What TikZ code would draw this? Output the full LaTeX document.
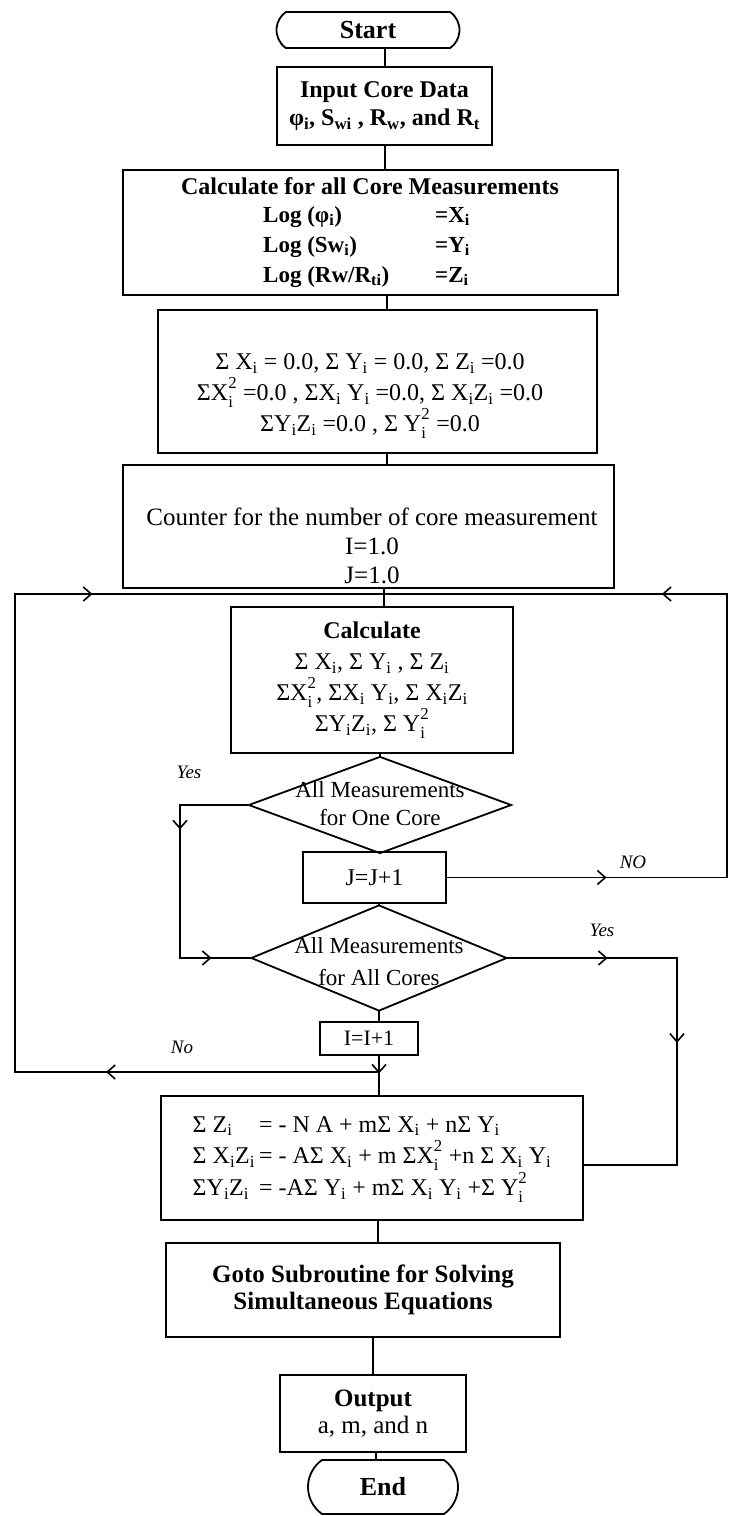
\documentclass[tikz,border=0pt]{standalone}
\usepackage{fontspec}
\setmainfont{Liberation Serif}
\usetikzlibrary{shapes.geometric,shapes.misc,arrows.meta,decorations.markings,calc}
\newcommand{\sbs}[1]{\textsubscript{#1}}
\newcommand{\ssb}[2]{\rlap{\raisebox{-0.12em}{\textsubscript{#1}}}\raisebox{0.12em}{\textsuperscript{#2}}}
\newcommand{\fs}[2]{\fontsize{#1}{#2}\selectfont}
\tikzset{
  ln/.style={line width=1.6pt, line cap=rect},
  boxn/.style={draw, line width=1.8pt, rectangle, inner sep=0pt, align=center},
  term/.style={draw, line width=1.8pt, rounded rectangle, rounded rectangle arc length=110, inner sep=0pt},
  dia/.style={draw, line width=1.8pt, diamond, inner sep=0pt},
  txt/.style={inner sep=0pt, align=center},
  lbl/.style={inner sep=0pt, font=\itshape\fs{19}{22}},
  chev/.style={postaction={decorate}, decoration={markings, mark=at position #1 with {\arrow{Straight Barb[length=8pt,width=14pt,line width=1.6pt]}}}},
}
\begin{document}
\begin{tikzpicture}[x=1pt,y=-1pt]
\fill[white] (0,0) rectangle (730,1516);
\useasboundingbox (0,0) rectangle (730,1516);

% nodes
\node[term, minimum width=183pt, minimum height=36pt, font=\bfseries\fs{26}{30}] (start) at (368,30) {Start};
\node[boxn, minimum width=215pt, minimum height=78pt, font=\bfseries\fs{24}{28}] (input) at (384.5,106) {Input Core Data\\ φ\sbs{i}, S\sbs{wi} , R\sbs{w}, and R\sbs{t}};

\node[boxn, minimum width=495pt, minimum height=125pt] (calcall) at (370.5,232.5) {};
\node[txt, font=\bfseries\fs{24}{28}] (calcallt) at (370,186) {Calculate for all Core Measurements};
\node[txt, anchor=west, font=\bfseries\fs{23}{30}] (logs) at (263,246) {\begin{tabular}{@{}p{172pt}@{}l@{}}
Log (φ\sbs{i}) & =X\sbs{i}\\
Log (Sw\sbs{i}) & =Y\sbs{i}\\
Log (Rw/R\sbs{ti}) & =Z\sbs{i}
\end{tabular}};

\node[boxn, minimum width=439pt, minimum height=143pt] (sigma) at (377.5,381.5) {};
\node[txt, font=\fs{24}{31}] (sigmat) at (370,396)
 {Σ X\sbs{i} = 0.0, Σ Y\sbs{i} = 0.0, Σ Z\sbs{i} =0.0\\
  ΣX\ssb{i}{2} =0.0 , ΣX\sbs{i} Y\sbs{i} =0.0, Σ X\sbs{i}Z\sbs{i} =0.0\\
  ΣY\sbs{i}Z\sbs{i} =0.0 , Σ Y\ssb{i}{2} =0.0};

\node[boxn, minimum width=491pt, minimum height=123pt] (counter) at (368.5,526.5) {};
\node[txt, font=\fs{25}{29}] (countert) at (372,546) {Counter for the number of core measurement\\ I=1.0\\ J=1.0};

\node[boxn, minimum width=282pt, minimum height=146pt, font=\fs{24}{31}] (calc) at (372,680)
 {\textbf{Calculate}\\
  Σ X\sbs{i}, Σ Y\sbs{i} , Σ Z\sbs{i}\\
  ΣX\ssb{i}{2}, ΣX\sbs{i} Y\sbs{i}, Σ X\sbs{i}Z\sbs{i}\\
  ΣY\sbs{i}Z\sbs{i}, Σ Y\ssb{i}{2}};

\node[dia, minimum width=263pt, minimum height=97pt] (d1) at (380,805) {};
\node[txt, font=\fs{23}{28}] (d1t) at (380,804) {All Measurements\\ for One Core};

\node[boxn, minimum width=143pt, minimum height=51pt, font=\fs{24}{28}] (jbox) at (374.5,877.5) {J=J+1};

\node[dia, minimum width=256pt, minimum height=106pt] (d2) at (379,958) {};
\node[txt, font=\fs{23}{32}] (d2t) at (379,962) {All Measurements\\ for All Cores};

\node[boxn, minimum width=98pt, minimum height=33pt, font=\fs{22}{26}] (ibox) at (369,1038.5) {I=I+1};

\node[boxn, minimum width=422pt, minimum height=124pt, font=\fs{24}{29}] (eq) at (372,1158)
 {\begin{tabular}{@{}l@{\,}l@{}}
  Σ Z\sbs{i} & = - N A + mΣ X\sbs{i} + nΣ Y\sbs{i}\\
  Σ X\sbs{i}Z\sbs{i} & = - AΣ X\sbs{i} + m ΣX\ssb{i}{2} +n Σ X\sbs{i} Y\sbs{i}\\
  ΣY\sbs{i}Z\sbs{i} & = -AΣ Y\sbs{i} + mΣ X\sbs{i} Y\sbs{i} +Σ Y\ssb{i}{2}
 \end{tabular}};

\node[boxn, minimum width=394pt, minimum height=94pt, font=\bfseries\fs{25}{27}] (goto) at (363,1290) {Goto Subroutine for Solving\\ Simultaneous Equations};

\node[boxn, minimum width=186pt, minimum height=77pt, font=\fs{25}{27}] (out) at (373,1413.5) {\textbf{Output}\\ a, m, and n};

\node[term, minimum width=150pt, minimum height=54pt, font=\bfseries\fs{26}{30}] (endn) at (383,1487) {End};

% labels
\node[lbl] (lyes1) at (189,772) {Yes};
\node[lbl] (lno1) at (633,862) {NO};
\node[lbl] (lyes2) at (602,930) {Yes};
\node[lbl] (lno2) at (182,1047) {No};

% coordinates
\coordinate (axA) at (385,0);
\coordinate (axB) at (387,0);
\coordinate (axC) at (378,0);
\coordinate (axD) at (376,0);
\coordinate (tj) at (384,594);
\coordinate (tl) at (15,594);
\coordinate (tr) at (727,594);
\coordinate (yx) at (180,0);
\coordinate (y1a) at (d1.west -| yx);
\coordinate (y1b) at (d2.west -| yx);
\coordinate (nr) at (jbox.east -| tr);
\coordinate (y2x) at (677,0);
\coordinate (y2a) at (d2.east -| y2x);
\coordinate (y2b) at (677,1165);
\coordinate (nj) at (379,1072);
\coordinate (bl) at (15,1072);

% connectors
\draw[ln] (start.south -| axA) -- (input.north -| axA);
\draw[ln] (input.south -| axA) -- (calcall.north -| axA);
\draw[ln] (calcall.south -| axB) -- (sigma.north -| axB);
\draw[ln] (sigma.south -| axB) -- (counter.north -| axB);
\draw[ln] (counter.south -| tj) -- (calc.north -| tj);
\draw[ln] (calc.south -| d1.north) -- (d1.north);
\draw[ln] (jbox.south -| d2.north) -- (d2.north);
\draw[ln] (d2.south) -- (d2.south |- ibox.north);

% loop top
\draw[ln] (tl) -- (tr);
\draw[ln, chev=0.21] (tl) -- (tj);
\draw[ln, chev=0.19] (tr) -- (tj);

% yes 1
\draw[ln] (d1.west) -- (y1a) -- (y1b) -- (d2.west);
\draw[ln, chev=0.16] (y1a) -- (y1b);
\draw[ln, chev=0.45] (y1b) -- (d2.west);

% NO
\draw[ln] (jbox.east) -- (nr) -- (tr);
\draw[ln, chev=0.57] (jbox.east) -- (nr);

% yes 2
\draw[ln] (d2.east) -- (y2a) -- (y2b) -- (y2b -| eq.east);
\draw[ln, chev=0.59] (d2.east) -- (y2a);
\draw[ln, chev=0.41] (y2a) -- (y2b);

% I -> eq and No back loop
\draw[ln, chev=0.45] (ibox.south -| nj) -- (eq.north -| nj);
\draw[ln] (nj) -- (bl) -- (tl);
\draw[ln, chev=0.75] (nj) -- (bl);

% bottom chain
\draw[ln] (eq.south -| axC) -- (goto.north -| axC);
\draw[ln] (goto.south -| out.north) -- (out.north);
\draw[ln] (out.south -| axD) -- (endn.north -| axD);
\end{tikzpicture}
\end{document}
